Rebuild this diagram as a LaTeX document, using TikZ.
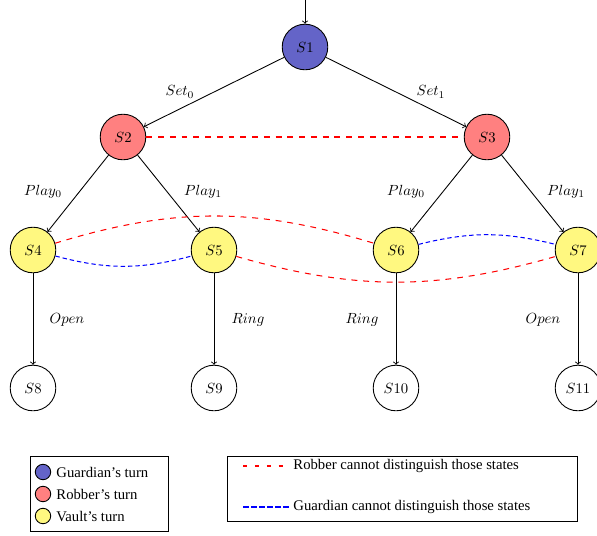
\documentclass[tikz,border=0pt]{standalone}
\usepackage{amsmath, amssymb}
\usepackage{fontspec}
\setmainfont{Liberation Serif}
\usepackage{xcolor}
\definecolor{guardfill}{RGB}{100,100,200}
\tikzset{
    statenode/.style={circle, draw, minimum size=31pt, inner sep=0pt},
    guardturn/.style={statenode, fill=guardfill},
    robberturn/.style={statenode, fill=red!50},
    vaultturn/.style={statenode, fill=yellow!50},
    robberline/.style={red, dash pattern=on 4pt off 4pt, line width=0.7pt},
    guardline/.style={blue, dash pattern=on 3pt off 2pt, line width=0.7pt},
    legdot/.style={circle, draw, minimum size=10.5pt, inner sep=0pt},
}

\begin{document}
\begin{tikzpicture}[x=0.68pt, y=0.68pt, line width=0.6pt]
        \useasboundingbox (0,0) rectangle (597,-535);
        % states
        \node[guardturn] (s1) at (305, -47) {$S1$};
        \node[robberturn] (s2) at (123, -137) {$S2$};
        \node[robberturn] (s3) at (487, -137) {$S3$};
        \node[vaultturn] (s4) at (33, -250) {$S4$};
        \node[vaultturn] (s5) at (214, -250) {$S5$};
        \node[vaultturn] (s6) at (396, -250) {$S6$};
        \node[vaultturn] (s7) at (578, -250) {$S7$};
        \node[statenode] (s8) at (33, -388) {$S8$};
        \node[statenode] (s9) at (214, -388) {$S9$};
        \node[statenode] (s10) at (396, -388) {$S10$};
        \node[statenode] (s11) at (578, -388) {$S11$};
        \coordinate (start) at (305, 0);

        \draw[->] (start) -- (s1);
        \draw[->] (s1) -- (s2);
        \draw[->] (s1) -- (s3);
        \draw[->] (s2) -- (s4);
        \draw[->] (s2) -- (s5);
        \draw[->] (s3) -- (s6);
        \draw[->] (s3) -- (s7);
        \draw[->] (s4) -- (s8);
        \draw[->] (s5) -- (s9);
        \draw[->] (s6) -- (s10);
        \draw[->] (s7) -- (s11);

        % action labels
        \node (set0) at (180, -92) {$Set_0$};
        \node (set1) at (431, -92) {$Set_1$};
        \node (play0l) at (43, -192) {$Play_0$};
        \node (play1l) at (203, -192) {$Play_1$};
        \node (play0r) at (406, -192) {$Play_0$};
        \node (play1r) at (566, -192) {$Play_1$};
        \node (open4) at (67, -320) {$Open$};
        \node (ring5) at (248, -320) {$Ring$};
        \node (ring6) at (362, -320) {$Ring$};
        \node (open7) at (543, -320) {$Open$};

        % indistinguishable states
        \draw[robberline] (s2) -- (s3);
        \draw[robberline] (s4) to[bend left=17] (s6);
        \draw[robberline] (s5) to[bend right=16] (s7);
        \draw[guardline] (s4) to[bend right=15] (s5);
        \draw[guardline] (s6) to[bend left=14] (s7);

        % legend
        \draw (30, -456) rectangle (168, -531);
        \node[legdot, fill=guardfill] (dotg) at (43, -472) {};
        \node[legdot, fill=red!50] (dotr) at (43, -494) {};
        \node[legdot, fill=yellow!50] (doty) at (43, -516) {};
        \node[anchor=west, inner sep=0pt] (txtg) at (56, -472) {Guardian's turn};
        \node[anchor=west, inner sep=0pt] (txtr) at (56, -494) {Robber's turn};
        \node[anchor=west, inner sep=0pt] (txty) at (56, -516) {Vault's turn};

        \draw (227, -456) rectangle (577, -521);
        \coordinate (rl1) at (243, -466);
        \coordinate (rl2) at (289, -466);
        \coordinate (gl1) at (243, -507);
        \coordinate (gl2) at (289, -507);
        \draw[red, dash pattern=on 2.7pt off 5.4pt, line width=0.7pt] (rl1) -- (rl2);
        \draw[blue, dash pattern=on 4pt off 1.5pt, line width=0.7pt] (gl1) -- (gl2);
        \node[anchor=west, inner sep=0pt] (txtrl) at (293, -466) {Robber cannot distinguish those states};
        \node[anchor=west, inner sep=0pt] (txtgl) at (293, -507) {Guardian cannot distinguish those states};
    \end{tikzpicture}
\end{document}
